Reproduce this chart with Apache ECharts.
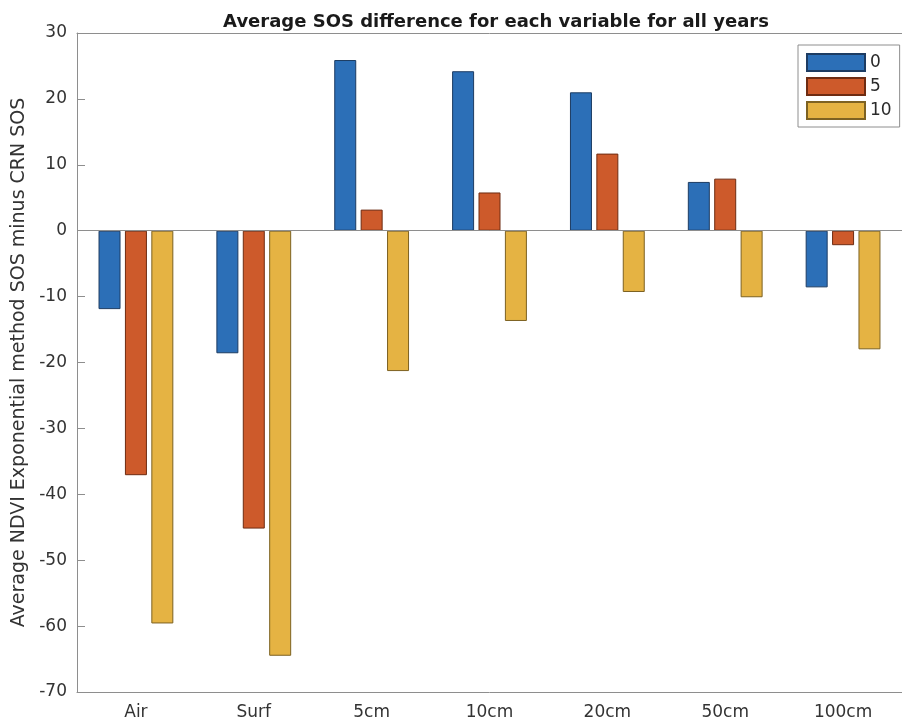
<!DOCTYPE html>
<html>
<head>
<meta charset="utf-8">
<script src="https://cdn.jsdelivr.net/npm/echarts@6/dist/echarts.min.js"></script>
<style>
  html, body { margin: 0; padding: 0; background: #fff; }
  #main { width: 902px; height: 722px; }
</style>
</head>
<body>
<div id="main"></div>
<script>
var categories = ['Air', 'Surf', '5cm', '10cm', '20cm', '50cm', '100cm'];
var seriesNames = ['0', '5', '10'];
var values0 = [-11.9, -18.6, 25.9, 24.2, 21.0, 7.4, -8.6];
var values5 = [-37.1, -45.2, 3.2, 5.8, 11.7, 7.9, -2.2];
var values10 = [-59.6, -64.5, -21.3, -13.7, -9.3, -10.1, -18.0];
var yTicks = [-70, -60, -50, -40, -30, -20, -10, 0, 10, 20, 30];

var colors = ['#2c6fb7', '#cd5a2b', '#e5b343'];
var edges = ['#1d3c63', '#6e2c12', '#7d6222'];
var axisGray = '#8e8e8e';
var font = 'DejaVu Sans';

var myChart = echarts.init(document.getElementById('main'));

function makeSeries(name, data, i) {
    var s = {
        name: name,
        type: 'bar',
        data: data,
        barWidth: 22,
        barGap: '20%',
        itemStyle: {
            color: colors[i],
            borderColor: edges[i],
            borderWidth: 1
        }
    };
    if (i === 0) {
        // bar baseline at zero
        s.markLine = {
            silent: true,
            symbol: 'none',
            label: { show: false },
            lineStyle: { color: axisGray, type: 'solid', width: 1 },
            data: [{ yAxis: 0 }]
        };
    }
    return s;
}

var option = {
    animation: false,
    title: {
        text: 'Average SOS difference for each variable for all years',
        left: 491,
        textAlign: 'center',
        top: 8,
        textStyle: { fontFamily: font, fontWeight: 'bold', fontSize: 18, color: '#1a1a1a' }
    },
    legend: {
        orient: 'vertical',
        left: 798,
        top: 45,
        padding: [8, 8, 7, 8],
        itemWidth: 58,
        itemHeight: 17,
        itemGap: 5,
        borderColor: axisGray,
        borderWidth: 1,
        icon: 'rect',
        data: seriesNames,
        textStyle: { fontFamily: font, fontSize: 17, color: '#2a2a2a', padding: [0, 0, 0, 0] }
    },
    grid: { left: 77, right: -13, top: 33, bottom: 30 },
    xAxis: [{
        type: 'category',
        data: categories,
        position: 'bottom',
        axisLine: { onZero: false, lineStyle: { color: axisGray } },
        axisTick: { inside: true, alignWithLabel: true, length: 8, lineStyle: { color: axisGray } },
        axisLabel: { margin: 12, fontFamily: font, fontSize: 17, color: '#333' }
    }, {
        type: 'category',
        data: categories,
        position: 'top',
        axisLine: { onZero: false, lineStyle: { color: axisGray } },
        axisTick: { inside: true, alignWithLabel: true, length: 8, lineStyle: { color: axisGray } },
        axisLabel: { show: false }
    }],
    yAxis: {
        type: 'value',
        min: yTicks[0],
        max: yTicks[yTicks.length - 1],
        interval: 10,
        name: 'Average NDVI Exponential method SOS minus CRN SOS',
        nameLocation: 'middle',
        nameGap: 39,
        nameTextStyle: { fontFamily: font, fontSize: 19, color: '#333' },
        axisLine: { show: true, lineStyle: { color: axisGray } },
        axisTick: { show: true, inside: true, length: 8, lineStyle: { color: axisGray } },
        splitLine: { show: false },
        axisLabel: { margin: 10, fontFamily: font, fontSize: 17, color: '#333' }
    },
    series: [
        makeSeries(seriesNames[0], values0, 0),
        makeSeries(seriesNames[1], values5, 1),
        makeSeries(seriesNames[2], values10, 2)
    ]
};

myChart.setOption(option);
</script>
</body>
</html>
